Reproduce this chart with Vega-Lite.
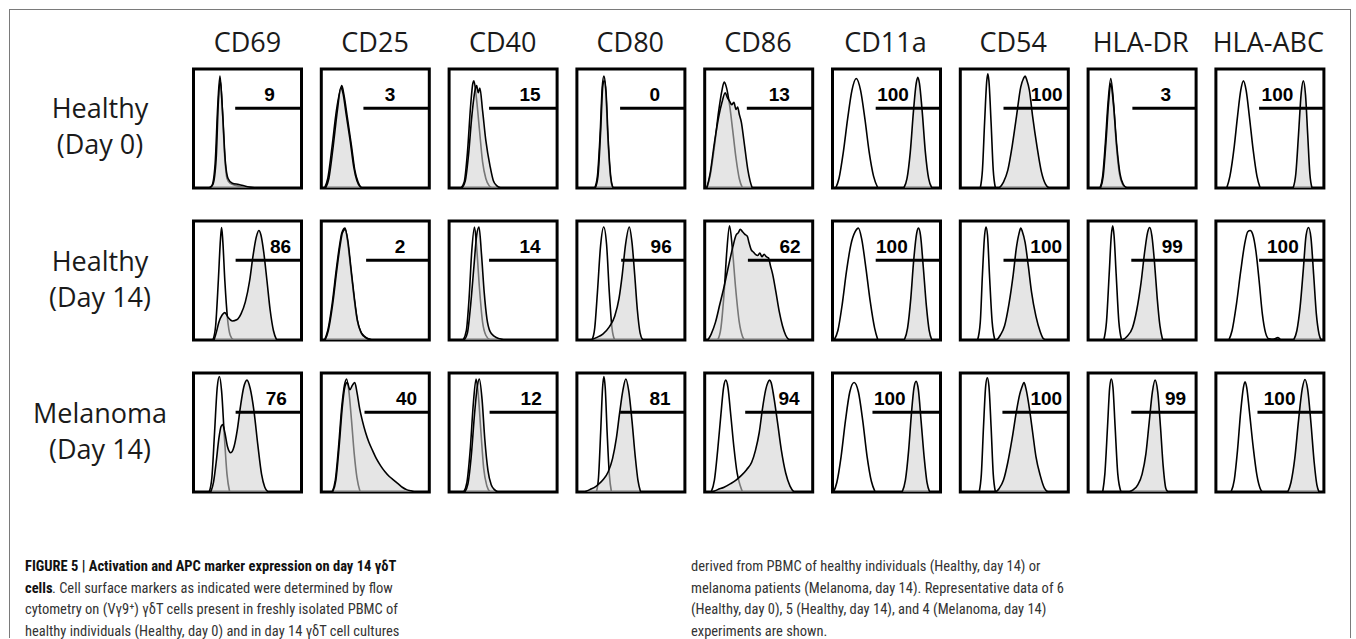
{
"$schema":"https://vega.github.io/schema/vega-lite/v6.json",
"background":"white",
"padding":{"left":9,"top":9,"right":0,"bottom":0},
"config":{"view":{"stroke":"black","strokeWidth":3}},
"datasets":{
"h":[
{"r":"H0","c":"CD69","k":"c","x":14,"y":0},{"r":"H0","c":"CD69","k":"c","x":17,"y":2},{"r":"H0","c":"CD69","k":"c","x":20,"y":20},{"r":"H0","c":"CD69","k":"c","x":22.5,"y":70},{"r":"H0","c":"CD69","k":"c","x":24.5,"y":94},{"r":"H0","c":"CD69","k":"c","x":26.5,"y":70},{"r":"H0","c":"CD69","k":"c","x":29,"y":25},{"r":"H0","c":"CD69","k":"c","x":31,"y":8},{"r":"H0","c":"CD69","k":"c","x":34,"y":4},{"r":"H0","c":"CD69","k":"c","x":40,"y":2},{"r":"H0","c":"CD69","k":"c","x":48,"y":0},
{"r":"H0","c":"CD69","k":"s","x":15,"y":0},{"r":"H0","c":"CD69","k":"s","x":18,"y":3},{"r":"H0","c":"CD69","k":"s","x":21,"y":25},{"r":"H0","c":"CD69","k":"s","x":23,"y":72},{"r":"H0","c":"CD69","k":"s","x":24.8,"y":90},{"r":"H0","c":"CD69","k":"s","x":26.8,"y":65},{"r":"H0","c":"CD69","k":"s","x":29.5,"y":22},{"r":"H0","c":"CD69","k":"s","x":32,"y":8},{"r":"H0","c":"CD69","k":"s","x":36,"y":4},{"r":"H0","c":"CD69","k":"s","x":42,"y":3},{"r":"H0","c":"CD69","k":"s","x":50,"y":1},{"r":"H0","c":"CD69","k":"s","x":58,"y":0},
{"r":"H0","c":"CD25","k":"c","x":3,"y":0},{"r":"H0","c":"CD25","k":"c","x":6,"y":8},{"r":"H0","c":"CD25","k":"c","x":10,"y":35},{"r":"H0","c":"CD25","k":"c","x":14,"y":65},{"r":"H0","c":"CD25","k":"c","x":17,"y":80},{"r":"H0","c":"CD25","k":"c","x":19,"y":86},{"r":"H0","c":"CD25","k":"c","x":21,"y":78},{"r":"H0","c":"CD25","k":"c","x":24,"y":60},{"r":"H0","c":"CD25","k":"c","x":28,"y":35},{"r":"H0","c":"CD25","k":"c","x":31,"y":15},{"r":"H0","c":"CD25","k":"c","x":34,"y":5},{"r":"H0","c":"CD25","k":"c","x":37,"y":0},
{"r":"H0","c":"CD25","k":"s","x":4,"y":0},{"r":"H0","c":"CD25","k":"s","x":7,"y":8},{"r":"H0","c":"CD25","k":"s","x":11,"y":35},{"r":"H0","c":"CD25","k":"s","x":15,"y":66},{"r":"H0","c":"CD25","k":"s","x":18,"y":84},{"r":"H0","c":"CD25","k":"s","x":20,"y":80},{"r":"H0","c":"CD25","k":"s","x":23,"y":62},{"r":"H0","c":"CD25","k":"s","x":27,"y":38},{"r":"H0","c":"CD25","k":"s","x":30,"y":18},{"r":"H0","c":"CD25","k":"s","x":33,"y":6},{"r":"H0","c":"CD25","k":"s","x":36,"y":1},{"r":"H0","c":"CD25","k":"s","x":38,"y":0},
{"r":"H0","c":"CD40","k":"c","x":11,"y":0},{"r":"H0","c":"CD40","k":"c","x":14,"y":5},{"r":"H0","c":"CD40","k":"c","x":17,"y":30},{"r":"H0","c":"CD40","k":"c","x":20,"y":70},{"r":"H0","c":"CD40","k":"c","x":22,"y":88},{"r":"H0","c":"CD40","k":"c","x":23,"y":90},{"r":"H0","c":"CD40","k":"c","x":25,"y":78},{"r":"H0","c":"CD40","k":"c","x":28,"y":50},{"r":"H0","c":"CD40","k":"c","x":31,"y":22},{"r":"H0","c":"CD40","k":"c","x":34,"y":8},{"r":"H0","c":"CD40","k":"c","x":37,"y":2},{"r":"H0","c":"CD40","k":"c","x":40,"y":0},
{"r":"H0","c":"CD40","k":"s","x":12,"y":0},{"r":"H0","c":"CD40","k":"s","x":15,"y":6},{"r":"H0","c":"CD40","k":"s","x":18,"y":28},{"r":"H0","c":"CD40","k":"s","x":21,"y":60},{"r":"H0","c":"CD40","k":"s","x":24,"y":82},{"r":"H0","c":"CD40","k":"s","x":25.5,"y":86},{"r":"H0","c":"CD40","k":"s","x":27,"y":80},{"r":"H0","c":"CD40","k":"s","x":28.5,"y":84},{"r":"H0","c":"CD40","k":"s","x":31,"y":65},{"r":"H0","c":"CD40","k":"s","x":34,"y":40},{"r":"H0","c":"CD40","k":"s","x":38,"y":18},{"r":"H0","c":"CD40","k":"s","x":41,"y":6},{"r":"H0","c":"CD40","k":"s","x":44,"y":2},{"r":"H0","c":"CD40","k":"s","x":48,"y":0},
{"r":"H0","c":"CD80","k":"c","x":16.5,"y":0},{"r":"H0","c":"CD80","k":"c","x":19,"y":10},{"r":"H0","c":"CD80","k":"c","x":21.5,"y":45},{"r":"H0","c":"CD80","k":"c","x":23.5,"y":85},{"r":"H0","c":"CD80","k":"c","x":25,"y":94},{"r":"H0","c":"CD80","k":"c","x":26.5,"y":85},{"r":"H0","c":"CD80","k":"c","x":28.5,"y":45},{"r":"H0","c":"CD80","k":"c","x":31,"y":10},{"r":"H0","c":"CD80","k":"c","x":33,"y":0},
{"r":"H0","c":"CD80","k":"s","x":17,"y":0},{"r":"H0","c":"CD80","k":"s","x":19.5,"y":10},{"r":"H0","c":"CD80","k":"s","x":22,"y":48},{"r":"H0","c":"CD80","k":"s","x":24,"y":86},{"r":"H0","c":"CD80","k":"s","x":25.3,"y":90},{"r":"H0","c":"CD80","k":"s","x":27,"y":80},{"r":"H0","c":"CD80","k":"s","x":29,"y":40},{"r":"H0","c":"CD80","k":"s","x":31.5,"y":8},{"r":"H0","c":"CD80","k":"s","x":33.5,"y":0},
{"r":"H0","c":"CD86","k":"c","x":2,"y":0},{"r":"H0","c":"CD86","k":"c","x":5,"y":10},{"r":"H0","c":"CD86","k":"c","x":9,"y":35},{"r":"H0","c":"CD86","k":"c","x":13,"y":65},{"r":"H0","c":"CD86","k":"c","x":16,"y":82},{"r":"H0","c":"CD86","k":"c","x":18,"y":89},{"r":"H0","c":"CD86","k":"c","x":20,"y":85},{"r":"H0","c":"CD86","k":"c","x":23,"y":70},{"r":"H0","c":"CD86","k":"c","x":26,"y":48},{"r":"H0","c":"CD86","k":"c","x":29,"y":25},{"r":"H0","c":"CD86","k":"c","x":32,"y":8},{"r":"H0","c":"CD86","k":"c","x":35,"y":0},
{"r":"H0","c":"CD86","k":"s","x":2,"y":0},{"r":"H0","c":"CD86","k":"s","x":5,"y":12},{"r":"H0","c":"CD86","k":"s","x":9,"y":38},{"r":"H0","c":"CD86","k":"s","x":13,"y":60},{"r":"H0","c":"CD86","k":"s","x":16,"y":72},{"r":"H0","c":"CD86","k":"s","x":19,"y":80},{"r":"H0","c":"CD86","k":"s","x":21,"y":76},{"r":"H0","c":"CD86","k":"s","x":23,"y":73},{"r":"H0","c":"CD86","k":"s","x":25,"y":70},{"r":"H0","c":"CD86","k":"s","x":27,"y":72},{"r":"H0","c":"CD86","k":"s","x":29,"y":66},{"r":"H0","c":"CD86","k":"s","x":30.5,"y":68},{"r":"H0","c":"CD86","k":"s","x":32,"y":62},{"r":"H0","c":"CD86","k":"s","x":34,"y":55},{"r":"H0","c":"CD86","k":"s","x":36,"y":42},{"r":"H0","c":"CD86","k":"s","x":38,"y":28},{"r":"H0","c":"CD86","k":"s","x":40,"y":15},{"r":"H0","c":"CD86","k":"s","x":42,"y":6},{"r":"H0","c":"CD86","k":"s","x":44,"y":0},
{"r":"H0","c":"CD11a","k":"c","x":3,"y":0},{"r":"H0","c":"CD11a","k":"c","x":6,"y":8},{"r":"H0","c":"CD11a","k":"c","x":10,"y":30},{"r":"H0","c":"CD11a","k":"c","x":14,"y":58},{"r":"H0","c":"CD11a","k":"c","x":18,"y":82},{"r":"H0","c":"CD11a","k":"c","x":22,"y":92},{"r":"H0","c":"CD11a","k":"c","x":26,"y":82},{"r":"H0","c":"CD11a","k":"c","x":30,"y":58},{"r":"H0","c":"CD11a","k":"c","x":34,"y":30},{"r":"H0","c":"CD11a","k":"c","x":38,"y":10},{"r":"H0","c":"CD11a","k":"c","x":42,"y":0},
{"r":"H0","c":"CD11a","k":"s","x":66,"y":0},{"r":"H0","c":"CD11a","k":"s","x":69,"y":8},{"r":"H0","c":"CD11a","k":"s","x":72,"y":30},{"r":"H0","c":"CD11a","k":"s","x":75,"y":65},{"r":"H0","c":"CD11a","k":"s","x":77.5,"y":88},{"r":"H0","c":"CD11a","k":"s","x":79,"y":93},{"r":"H0","c":"CD11a","k":"s","x":80.5,"y":88},{"r":"H0","c":"CD11a","k":"s","x":83,"y":65},{"r":"H0","c":"CD11a","k":"s","x":86,"y":30},{"r":"H0","c":"CD11a","k":"s","x":89,"y":8},{"r":"H0","c":"CD11a","k":"s","x":92,"y":0},
{"r":"H0","c":"CD54","k":"c","x":18.5,"y":0},{"r":"H0","c":"CD54","k":"c","x":20.5,"y":15},{"r":"H0","c":"CD54","k":"c","x":22.5,"y":55},{"r":"H0","c":"CD54","k":"c","x":24.5,"y":90},{"r":"H0","c":"CD54","k":"c","x":25.5,"y":96},{"r":"H0","c":"CD54","k":"c","x":26.5,"y":90},{"r":"H0","c":"CD54","k":"c","x":28.5,"y":55},{"r":"H0","c":"CD54","k":"c","x":30.5,"y":15},{"r":"H0","c":"CD54","k":"c","x":32.5,"y":0},
{"r":"H0","c":"CD54","k":"s","x":36,"y":0},{"r":"H0","c":"CD54","k":"s","x":40,"y":5},{"r":"H0","c":"CD54","k":"s","x":44,"y":15},{"r":"H0","c":"CD54","k":"s","x":48,"y":35},{"r":"H0","c":"CD54","k":"s","x":52,"y":60},{"r":"H0","c":"CD54","k":"s","x":56,"y":85},{"r":"H0","c":"CD54","k":"s","x":58.5,"y":92},{"r":"H0","c":"CD54","k":"s","x":60,"y":94},{"r":"H0","c":"CD54","k":"s","x":61.5,"y":91},{"r":"H0","c":"CD54","k":"s","x":64,"y":82},{"r":"H0","c":"CD54","k":"s","x":67,"y":60},{"r":"H0","c":"CD54","k":"s","x":71,"y":35},{"r":"H0","c":"CD54","k":"s","x":75,"y":14},{"r":"H0","c":"CD54","k":"s","x":79,"y":3},{"r":"H0","c":"CD54","k":"s","x":82,"y":0},
{"r":"H0","c":"HLA-DR","k":"c","x":11,"y":0},{"r":"H0","c":"HLA-DR","k":"c","x":13.5,"y":10},{"r":"H0","c":"HLA-DR","k":"c","x":16,"y":38},{"r":"H0","c":"HLA-DR","k":"c","x":18.5,"y":72},{"r":"H0","c":"HLA-DR","k":"c","x":21,"y":92},{"r":"H0","c":"HLA-DR","k":"c","x":23.5,"y":72},{"r":"H0","c":"HLA-DR","k":"c","x":26,"y":38},{"r":"H0","c":"HLA-DR","k":"c","x":29,"y":12},{"r":"H0","c":"HLA-DR","k":"c","x":32,"y":3},{"r":"H0","c":"HLA-DR","k":"c","x":35,"y":0},
{"r":"H0","c":"HLA-DR","k":"s","x":11.5,"y":0},{"r":"H0","c":"HLA-DR","k":"s","x":14,"y":10},{"r":"H0","c":"HLA-DR","k":"s","x":16.5,"y":38},{"r":"H0","c":"HLA-DR","k":"s","x":19,"y":72},{"r":"H0","c":"HLA-DR","k":"s","x":21,"y":88},{"r":"H0","c":"HLA-DR","k":"s","x":23.5,"y":70},{"r":"H0","c":"HLA-DR","k":"s","x":26.5,"y":36},{"r":"H0","c":"HLA-DR","k":"s","x":29.5,"y":12},{"r":"H0","c":"HLA-DR","k":"s","x":32.5,"y":3},{"r":"H0","c":"HLA-DR","k":"s","x":36,"y":0},
{"r":"H0","c":"HLA-ABC","k":"c","x":10,"y":0},{"r":"H0","c":"HLA-ABC","k":"c","x":13,"y":10},{"r":"H0","c":"HLA-ABC","k":"c","x":17,"y":35},{"r":"H0","c":"HLA-ABC","k":"c","x":20,"y":60},{"r":"H0","c":"HLA-ABC","k":"c","x":23,"y":82},{"r":"H0","c":"HLA-ABC","k":"c","x":25.5,"y":90},{"r":"H0","c":"HLA-ABC","k":"c","x":28,"y":82},{"r":"H0","c":"HLA-ABC","k":"c","x":31,"y":60},{"r":"H0","c":"HLA-ABC","k":"c","x":34.5,"y":32},{"r":"H0","c":"HLA-ABC","k":"c","x":38,"y":10},{"r":"H0","c":"HLA-ABC","k":"c","x":41,"y":0},
{"r":"H0","c":"HLA-ABC","k":"s","x":71.5,"y":0},{"r":"H0","c":"HLA-ABC","k":"s","x":74,"y":12},{"r":"H0","c":"HLA-ABC","k":"s","x":76.5,"y":45},{"r":"H0","c":"HLA-ABC","k":"s","x":79,"y":80},{"r":"H0","c":"HLA-ABC","k":"s","x":81,"y":90},{"r":"H0","c":"HLA-ABC","k":"s","x":83,"y":78},{"r":"H0","c":"HLA-ABC","k":"s","x":85,"y":45},{"r":"H0","c":"HLA-ABC","k":"s","x":87,"y":12},{"r":"H0","c":"HLA-ABC","k":"s","x":89,"y":0},
{"r":"H14","c":"CD69","k":"c","x":18,"y":0},{"r":"H14","c":"CD69","k":"c","x":20.5,"y":12},{"r":"H14","c":"CD69","k":"c","x":23,"y":50},{"r":"H14","c":"CD69","k":"c","x":25,"y":85},{"r":"H14","c":"CD69","k":"c","x":26,"y":94.5},{"r":"H14","c":"CD69","k":"c","x":27,"y":85},{"r":"H14","c":"CD69","k":"c","x":29,"y":50},{"r":"H14","c":"CD69","k":"c","x":31.5,"y":18},{"r":"H14","c":"CD69","k":"c","x":34,"y":4},{"r":"H14","c":"CD69","k":"c","x":37,"y":0},
{"r":"H14","c":"CD69","k":"s","x":19,"y":0},{"r":"H14","c":"CD69","k":"s","x":21,"y":6},{"r":"H14","c":"CD69","k":"s","x":23.5,"y":15},{"r":"H14","c":"CD69","k":"s","x":26.5,"y":21},{"r":"H14","c":"CD69","k":"s","x":29,"y":23},{"r":"H14","c":"CD69","k":"s","x":32,"y":19},{"r":"H14","c":"CD69","k":"s","x":36,"y":16},{"r":"H14","c":"CD69","k":"s","x":40,"y":17},{"r":"H14","c":"CD69","k":"s","x":44,"y":22},{"r":"H14","c":"CD69","k":"s","x":48,"y":32},{"r":"H14","c":"CD69","k":"s","x":52,"y":50},{"r":"H14","c":"CD69","k":"s","x":55,"y":70},{"r":"H14","c":"CD69","k":"s","x":58,"y":86},{"r":"H14","c":"CD69","k":"s","x":60.5,"y":92},{"r":"H14","c":"CD69","k":"s","x":62.5,"y":88},{"r":"H14","c":"CD69","k":"s","x":65,"y":74},{"r":"H14","c":"CD69","k":"s","x":68,"y":50},{"r":"H14","c":"CD69","k":"s","x":71,"y":25},{"r":"H14","c":"CD69","k":"s","x":74,"y":8},{"r":"H14","c":"CD69","k":"s","x":77,"y":0},
{"r":"H14","c":"CD25","k":"c","x":3,"y":0},{"r":"H14","c":"CD25","k":"c","x":6,"y":8},{"r":"H14","c":"CD25","k":"c","x":10,"y":30},{"r":"H14","c":"CD25","k":"c","x":14,"y":60},{"r":"H14","c":"CD25","k":"c","x":17,"y":80},{"r":"H14","c":"CD25","k":"c","x":19,"y":90},{"r":"H14","c":"CD25","k":"c","x":22,"y":94},{"r":"H14","c":"CD25","k":"c","x":24,"y":85},{"r":"H14","c":"CD25","k":"c","x":27,"y":62},{"r":"H14","c":"CD25","k":"c","x":30,"y":38},{"r":"H14","c":"CD25","k":"c","x":33,"y":18},{"r":"H14","c":"CD25","k":"c","x":36,"y":8},{"r":"H14","c":"CD25","k":"c","x":40,"y":3},{"r":"H14","c":"CD25","k":"c","x":44,"y":1},{"r":"H14","c":"CD25","k":"c","x":47,"y":0},
{"r":"H14","c":"CD25","k":"s","x":3.5,"y":0},{"r":"H14","c":"CD25","k":"s","x":6.5,"y":8},{"r":"H14","c":"CD25","k":"s","x":10.5,"y":30},{"r":"H14","c":"CD25","k":"s","x":14.5,"y":60},{"r":"H14","c":"CD25","k":"s","x":17.5,"y":80},{"r":"H14","c":"CD25","k":"s","x":19.5,"y":90},{"r":"H14","c":"CD25","k":"s","x":22,"y":93},{"r":"H14","c":"CD25","k":"s","x":24.5,"y":84},{"r":"H14","c":"CD25","k":"s","x":27.5,"y":60},{"r":"H14","c":"CD25","k":"s","x":30.5,"y":36},{"r":"H14","c":"CD25","k":"s","x":33.5,"y":16},{"r":"H14","c":"CD25","k":"s","x":37,"y":6},{"r":"H14","c":"CD25","k":"s","x":41,"y":2},{"r":"H14","c":"CD25","k":"s","x":45,"y":0},
{"r":"H14","c":"CD40","k":"c","x":13,"y":0},{"r":"H14","c":"CD40","k":"c","x":16,"y":8},{"r":"H14","c":"CD40","k":"c","x":18.5,"y":35},{"r":"H14","c":"CD40","k":"c","x":21,"y":75},{"r":"H14","c":"CD40","k":"c","x":23.5,"y":95},{"r":"H14","c":"CD40","k":"c","x":25.5,"y":78},{"r":"H14","c":"CD40","k":"c","x":28,"y":45},{"r":"H14","c":"CD40","k":"c","x":31,"y":15},{"r":"H14","c":"CD40","k":"c","x":34,"y":4},{"r":"H14","c":"CD40","k":"c","x":38,"y":0},
{"r":"H14","c":"CD40","k":"s","x":14,"y":0},{"r":"H14","c":"CD40","k":"s","x":17,"y":6},{"r":"H14","c":"CD40","k":"s","x":20,"y":30},{"r":"H14","c":"CD40","k":"s","x":23,"y":62},{"r":"H14","c":"CD40","k":"s","x":25.5,"y":88},{"r":"H14","c":"CD40","k":"s","x":27.7,"y":95},{"r":"H14","c":"CD40","k":"s","x":30,"y":72},{"r":"H14","c":"CD40","k":"s","x":32.5,"y":40},{"r":"H14","c":"CD40","k":"s","x":35,"y":18},{"r":"H14","c":"CD40","k":"s","x":38,"y":7},{"r":"H14","c":"CD40","k":"s","x":42,"y":3},{"r":"H14","c":"CD40","k":"s","x":47,"y":1},{"r":"H14","c":"CD40","k":"s","x":51,"y":0},
{"r":"H14","c":"CD80","k":"c","x":14,"y":0},{"r":"H14","c":"CD80","k":"c","x":16.5,"y":10},{"r":"H14","c":"CD80","k":"c","x":19,"y":40},{"r":"H14","c":"CD80","k":"c","x":22,"y":80},{"r":"H14","c":"CD80","k":"c","x":24.8,"y":95},{"r":"H14","c":"CD80","k":"c","x":27.5,"y":80},{"r":"H14","c":"CD80","k":"c","x":30,"y":40},{"r":"H14","c":"CD80","k":"c","x":32.5,"y":10},{"r":"H14","c":"CD80","k":"c","x":35,"y":0},
{"r":"H14","c":"CD80","k":"s","x":13,"y":0},{"r":"H14","c":"CD80","k":"s","x":18,"y":2},{"r":"H14","c":"CD80","k":"s","x":24,"y":5},{"r":"H14","c":"CD80","k":"s","x":30,"y":11},{"r":"H14","c":"CD80","k":"s","x":35,"y":20},{"r":"H14","c":"CD80","k":"s","x":39,"y":35},{"r":"H14","c":"CD80","k":"s","x":42,"y":55},{"r":"H14","c":"CD80","k":"s","x":45,"y":80},{"r":"H14","c":"CD80","k":"s","x":48.5,"y":95},{"r":"H14","c":"CD80","k":"s","x":51,"y":82},{"r":"H14","c":"CD80","k":"s","x":53.5,"y":55},{"r":"H14","c":"CD80","k":"s","x":56,"y":25},{"r":"H14","c":"CD80","k":"s","x":58.5,"y":6},{"r":"H14","c":"CD80","k":"s","x":61,"y":0},
{"r":"H14","c":"CD86","k":"c","x":12,"y":0},{"r":"H14","c":"CD86","k":"c","x":15,"y":10},{"r":"H14","c":"CD86","k":"c","x":18,"y":40},{"r":"H14","c":"CD86","k":"c","x":20.5,"y":75},{"r":"H14","c":"CD86","k":"c","x":23,"y":96},{"r":"H14","c":"CD86","k":"c","x":25.5,"y":78},{"r":"H14","c":"CD86","k":"c","x":28.5,"y":45},{"r":"H14","c":"CD86","k":"c","x":32,"y":15},{"r":"H14","c":"CD86","k":"c","x":35,"y":3},{"r":"H14","c":"CD86","k":"c","x":37,"y":0},
{"r":"H14","c":"CD86","k":"s","x":3,"y":0},{"r":"H14","c":"CD86","k":"s","x":6,"y":5},{"r":"H14","c":"CD86","k":"s","x":10,"y":15},{"r":"H14","c":"CD86","k":"s","x":14,"y":30},{"r":"H14","c":"CD86","k":"s","x":18,"y":45},{"r":"H14","c":"CD86","k":"s","x":22,"y":62},{"r":"H14","c":"CD86","k":"s","x":26,"y":78},{"r":"H14","c":"CD86","k":"s","x":29,"y":88},{"r":"H14","c":"CD86","k":"s","x":31,"y":90},{"r":"H14","c":"CD86","k":"s","x":33,"y":93},{"r":"H14","c":"CD86","k":"s","x":35,"y":91},{"r":"H14","c":"CD86","k":"s","x":37,"y":89},{"r":"H14","c":"CD86","k":"s","x":39.5,"y":87},{"r":"H14","c":"CD86","k":"s","x":41,"y":82},{"r":"H14","c":"CD86","k":"s","x":43,"y":76},{"r":"H14","c":"CD86","k":"s","x":45,"y":74},{"r":"H14","c":"CD86","k":"s","x":47,"y":72},{"r":"H14","c":"CD86","k":"s","x":49,"y":71},{"r":"H14","c":"CD86","k":"s","x":51,"y":73},{"r":"H14","c":"CD86","k":"s","x":53,"y":70},{"r":"H14","c":"CD86","k":"s","x":55,"y":72},{"r":"H14","c":"CD86","k":"s","x":57,"y":70},{"r":"H14","c":"CD86","k":"s","x":59,"y":69},{"r":"H14","c":"CD86","k":"s","x":61,"y":62},{"r":"H14","c":"CD86","k":"s","x":63,"y":55},{"r":"H14","c":"CD86","k":"s","x":66,"y":40},{"r":"H14","c":"CD86","k":"s","x":69,"y":24},{"r":"H14","c":"CD86","k":"s","x":72,"y":12},{"r":"H14","c":"CD86","k":"s","x":75,"y":4},{"r":"H14","c":"CD86","k":"s","x":78,"y":0},
{"r":"H14","c":"CD11a","k":"c","x":1.5,"y":0},{"r":"H14","c":"CD11a","k":"c","x":5,"y":8},{"r":"H14","c":"CD11a","k":"c","x":9,"y":30},{"r":"H14","c":"CD11a","k":"c","x":13,"y":58},{"r":"H14","c":"CD11a","k":"c","x":17,"y":80},{"r":"H14","c":"CD11a","k":"c","x":21,"y":91},{"r":"H14","c":"CD11a","k":"c","x":24,"y":94},{"r":"H14","c":"CD11a","k":"c","x":27,"y":85},{"r":"H14","c":"CD11a","k":"c","x":31,"y":60},{"r":"H14","c":"CD11a","k":"c","x":35,"y":32},{"r":"H14","c":"CD11a","k":"c","x":39,"y":10},{"r":"H14","c":"CD11a","k":"c","x":42,"y":0},
{"r":"H14","c":"CD11a","k":"s","x":66.5,"y":0},{"r":"H14","c":"CD11a","k":"s","x":69.5,"y":10},{"r":"H14","c":"CD11a","k":"s","x":72.5,"y":35},{"r":"H14","c":"CD11a","k":"s","x":75,"y":65},{"r":"H14","c":"CD11a","k":"s","x":78,"y":90},{"r":"H14","c":"CD11a","k":"s","x":79.7,"y":94},{"r":"H14","c":"CD11a","k":"s","x":81.5,"y":88},{"r":"H14","c":"CD11a","k":"s","x":84,"y":62},{"r":"H14","c":"CD11a","k":"s","x":87,"y":28},{"r":"H14","c":"CD11a","k":"s","x":89.5,"y":8},{"r":"H14","c":"CD11a","k":"s","x":92,"y":0},
{"r":"H14","c":"CD54","k":"c","x":16,"y":0},{"r":"H14","c":"CD54","k":"c","x":18.5,"y":15},{"r":"H14","c":"CD54","k":"c","x":20.5,"y":55},{"r":"H14","c":"CD54","k":"c","x":22.5,"y":88},{"r":"H14","c":"CD54","k":"c","x":23.8,"y":95},{"r":"H14","c":"CD54","k":"c","x":25.2,"y":88},{"r":"H14","c":"CD54","k":"c","x":27,"y":55},{"r":"H14","c":"CD54","k":"c","x":29.5,"y":15},{"r":"H14","c":"CD54","k":"c","x":32,"y":0},
{"r":"H14","c":"CD54","k":"s","x":34,"y":0},{"r":"H14","c":"CD54","k":"s","x":37,"y":4},{"r":"H14","c":"CD54","k":"s","x":41,"y":12},{"r":"H14","c":"CD54","k":"s","x":45,"y":30},{"r":"H14","c":"CD54","k":"s","x":49,"y":55},{"r":"H14","c":"CD54","k":"s","x":52,"y":78},{"r":"H14","c":"CD54","k":"s","x":54.5,"y":90},{"r":"H14","c":"CD54","k":"s","x":56,"y":94},{"r":"H14","c":"CD54","k":"s","x":57.5,"y":91},{"r":"H14","c":"CD54","k":"s","x":60,"y":82},{"r":"H14","c":"CD54","k":"s","x":63,"y":62},{"r":"H14","c":"CD54","k":"s","x":66,"y":40},{"r":"H14","c":"CD54","k":"s","x":70,"y":20},{"r":"H14","c":"CD54","k":"s","x":74,"y":7},{"r":"H14","c":"CD54","k":"s","x":77,"y":1},{"r":"H14","c":"CD54","k":"s","x":79,"y":0},
{"r":"H14","c":"HLA-DR","k":"c","x":14.5,"y":0},{"r":"H14","c":"HLA-DR","k":"c","x":17,"y":15},{"r":"H14","c":"HLA-DR","k":"c","x":19.5,"y":55},{"r":"H14","c":"HLA-DR","k":"c","x":21.5,"y":88},{"r":"H14","c":"HLA-DR","k":"c","x":22.8,"y":96},{"r":"H14","c":"HLA-DR","k":"c","x":24,"y":88},{"r":"H14","c":"HLA-DR","k":"c","x":26,"y":55},{"r":"H14","c":"HLA-DR","k":"c","x":28.5,"y":15},{"r":"H14","c":"HLA-DR","k":"c","x":31,"y":0},
{"r":"H14","c":"HLA-DR","k":"s","x":32,"y":0},{"r":"H14","c":"HLA-DR","k":"s","x":36,"y":3},{"r":"H14","c":"HLA-DR","k":"s","x":41,"y":10},{"r":"H14","c":"HLA-DR","k":"s","x":45,"y":25},{"r":"H14","c":"HLA-DR","k":"s","x":49,"y":48},{"r":"H14","c":"HLA-DR","k":"s","x":52.5,"y":75},{"r":"H14","c":"HLA-DR","k":"s","x":55,"y":90},{"r":"H14","c":"HLA-DR","k":"s","x":57,"y":94.5},{"r":"H14","c":"HLA-DR","k":"s","x":59,"y":88},{"r":"H14","c":"HLA-DR","k":"s","x":61.5,"y":65},{"r":"H14","c":"HLA-DR","k":"s","x":64,"y":35},{"r":"H14","c":"HLA-DR","k":"s","x":66.5,"y":12},{"r":"H14","c":"HLA-DR","k":"s","x":69,"y":0},
{"r":"H14","c":"HLA-ABC","k":"c","x":12,"y":0},{"r":"H14","c":"HLA-ABC","k":"c","x":15,"y":8},{"r":"H14","c":"HLA-ABC","k":"c","x":19,"y":30},{"r":"H14","c":"HLA-ABC","k":"c","x":23,"y":58},{"r":"H14","c":"HLA-ABC","k":"c","x":26.5,"y":80},{"r":"H14","c":"HLA-ABC","k":"c","x":29.5,"y":91},{"r":"H14","c":"HLA-ABC","k":"c","x":31.8,"y":92},{"r":"H14","c":"HLA-ABC","k":"c","x":34,"y":89},{"r":"H14","c":"HLA-ABC","k":"c","x":37,"y":75},{"r":"H14","c":"HLA-ABC","k":"c","x":40,"y":50},{"r":"H14","c":"HLA-ABC","k":"c","x":43,"y":22},{"r":"H14","c":"HLA-ABC","k":"c","x":46,"y":6},{"r":"H14","c":"HLA-ABC","k":"c","x":49,"y":1},{"r":"H14","c":"HLA-ABC","k":"c","x":53,"y":0.5},{"r":"H14","c":"HLA-ABC","k":"c","x":57.5,"y":2},{"r":"H14","c":"HLA-ABC","k":"c","x":60,"y":0},
{"r":"H14","c":"HLA-ABC","k":"s","x":72,"y":0},{"r":"H14","c":"HLA-ABC","k":"s","x":75,"y":8},{"r":"H14","c":"HLA-ABC","k":"s","x":78,"y":28},{"r":"H14","c":"HLA-ABC","k":"s","x":81,"y":60},{"r":"H14","c":"HLA-ABC","k":"s","x":83.5,"y":88},{"r":"H14","c":"HLA-ABC","k":"s","x":85.8,"y":94.5},{"r":"H14","c":"HLA-ABC","k":"s","x":88,"y":86},{"r":"H14","c":"HLA-ABC","k":"s","x":90.5,"y":55},{"r":"H14","c":"HLA-ABC","k":"s","x":93,"y":22},{"r":"H14","c":"HLA-ABC","k":"s","x":95.5,"y":5},{"r":"H14","c":"HLA-ABC","k":"s","x":97.5,"y":0},
{"r":"M14","c":"CD69","k":"c","x":14.5,"y":0},{"r":"M14","c":"CD69","k":"c","x":17,"y":12},{"r":"M14","c":"CD69","k":"c","x":19.5,"y":50},{"r":"M14","c":"CD69","k":"c","x":22,"y":88},{"r":"M14","c":"CD69","k":"c","x":24,"y":97},{"r":"M14","c":"CD69","k":"c","x":26,"y":85},{"r":"M14","c":"CD69","k":"c","x":28.5,"y":48},{"r":"M14","c":"CD69","k":"c","x":31,"y":15},{"r":"M14","c":"CD69","k":"c","x":33.5,"y":0},
{"r":"M14","c":"CD69","k":"s","x":16,"y":0},{"r":"M14","c":"CD69","k":"s","x":18.5,"y":8},{"r":"M14","c":"CD69","k":"s","x":21,"y":25},{"r":"M14","c":"CD69","k":"s","x":23.5,"y":45},{"r":"M14","c":"CD69","k":"s","x":25.5,"y":55},{"r":"M14","c":"CD69","k":"s","x":27,"y":56.7},{"r":"M14","c":"CD69","k":"s","x":29,"y":50},{"r":"M14","c":"CD69","k":"s","x":31.5,"y":38},{"r":"M14","c":"CD69","k":"s","x":34.5,"y":33},{"r":"M14","c":"CD69","k":"s","x":37.5,"y":38},{"r":"M14","c":"CD69","k":"s","x":40.5,"y":52},{"r":"M14","c":"CD69","k":"s","x":43.5,"y":72},{"r":"M14","c":"CD69","k":"s","x":46.5,"y":88},{"r":"M14","c":"CD69","k":"s","x":49.5,"y":94},{"r":"M14","c":"CD69","k":"s","x":52.5,"y":87},{"r":"M14","c":"CD69","k":"s","x":56,"y":68},{"r":"M14","c":"CD69","k":"s","x":59.5,"y":40},{"r":"M14","c":"CD69","k":"s","x":63,"y":15},{"r":"M14","c":"CD69","k":"s","x":66,"y":4},{"r":"M14","c":"CD69","k":"s","x":69,"y":0},
{"r":"M14","c":"CD25","k":"c","x":10,"y":0},{"r":"M14","c":"CD25","k":"c","x":13,"y":10},{"r":"M14","c":"CD25","k":"c","x":16,"y":38},{"r":"M14","c":"CD25","k":"c","x":19,"y":72},{"r":"M14","c":"CD25","k":"c","x":21.5,"y":90},{"r":"M14","c":"CD25","k":"c","x":23.4,"y":95},{"r":"M14","c":"CD25","k":"c","x":25.5,"y":85},{"r":"M14","c":"CD25","k":"c","x":28,"y":60},{"r":"M14","c":"CD25","k":"c","x":30.5,"y":32},{"r":"M14","c":"CD25","k":"c","x":33,"y":12},{"r":"M14","c":"CD25","k":"c","x":36,"y":0},
{"r":"M14","c":"CD25","k":"s","x":10.5,"y":0},{"r":"M14","c":"CD25","k":"s","x":13.5,"y":10},{"r":"M14","c":"CD25","k":"s","x":16.5,"y":38},{"r":"M14","c":"CD25","k":"s","x":19.5,"y":72},{"r":"M14","c":"CD25","k":"s","x":22,"y":89},{"r":"M14","c":"CD25","k":"s","x":24,"y":92},{"r":"M14","c":"CD25","k":"s","x":26.5,"y":86},{"r":"M14","c":"CD25","k":"s","x":29,"y":90},{"r":"M14","c":"CD25","k":"s","x":31,"y":92},{"r":"M14","c":"CD25","k":"s","x":33,"y":84},{"r":"M14","c":"CD25","k":"s","x":35.5,"y":70},{"r":"M14","c":"CD25","k":"s","x":38,"y":60},{"r":"M14","c":"CD25","k":"s","x":41,"y":50},{"r":"M14","c":"CD25","k":"s","x":44,"y":42},{"r":"M14","c":"CD25","k":"s","x":47.4,"y":35},{"r":"M14","c":"CD25","k":"s","x":51,"y":28},{"r":"M14","c":"CD25","k":"s","x":55,"y":22},{"r":"M14","c":"CD25","k":"s","x":59,"y":17},{"r":"M14","c":"CD25","k":"s","x":63,"y":13},{"r":"M14","c":"CD25","k":"s","x":67,"y":10},{"r":"M14","c":"CD25","k":"s","x":71,"y":7},{"r":"M14","c":"CD25","k":"s","x":75,"y":4},{"r":"M14","c":"CD25","k":"s","x":79,"y":2},{"r":"M14","c":"CD25","k":"s","x":83,"y":1},{"r":"M14","c":"CD25","k":"s","x":87,"y":0},
{"r":"M14","c":"CD40","k":"c","x":13.5,"y":0},{"r":"M14","c":"CD40","k":"c","x":16.5,"y":8},{"r":"M14","c":"CD40","k":"c","x":19.5,"y":35},{"r":"M14","c":"CD40","k":"c","x":22.5,"y":75},{"r":"M14","c":"CD40","k":"c","x":25,"y":95},{"r":"M14","c":"CD40","k":"c","x":27,"y":82},{"r":"M14","c":"CD40","k":"c","x":29.5,"y":50},{"r":"M14","c":"CD40","k":"c","x":32,"y":20},{"r":"M14","c":"CD40","k":"c","x":35,"y":5},{"r":"M14","c":"CD40","k":"c","x":38,"y":0},
{"r":"M14","c":"CD40","k":"s","x":14.5,"y":0},{"r":"M14","c":"CD40","k":"s","x":17.5,"y":7},{"r":"M14","c":"CD40","k":"s","x":20.5,"y":30},{"r":"M14","c":"CD40","k":"s","x":23.5,"y":65},{"r":"M14","c":"CD40","k":"s","x":26,"y":88},{"r":"M14","c":"CD40","k":"s","x":28,"y":95},{"r":"M14","c":"CD40","k":"s","x":30.5,"y":78},{"r":"M14","c":"CD40","k":"s","x":33,"y":45},{"r":"M14","c":"CD40","k":"s","x":36,"y":18},{"r":"M14","c":"CD40","k":"s","x":39,"y":6},{"r":"M14","c":"CD40","k":"s","x":42,"y":2},{"r":"M14","c":"CD40","k":"s","x":45,"y":0},
{"r":"M14","c":"CD80","k":"c","x":18,"y":0},{"r":"M14","c":"CD80","k":"c","x":20,"y":12},{"r":"M14","c":"CD80","k":"c","x":22,"y":50},{"r":"M14","c":"CD80","k":"c","x":23.8,"y":88},{"r":"M14","c":"CD80","k":"c","x":25,"y":97},{"r":"M14","c":"CD80","k":"c","x":26.2,"y":88},{"r":"M14","c":"CD80","k":"c","x":28,"y":50},{"r":"M14","c":"CD80","k":"c","x":30,"y":15},{"r":"M14","c":"CD80","k":"c","x":32,"y":0},
{"r":"M14","c":"CD80","k":"s","x":7,"y":0},{"r":"M14","c":"CD80","k":"s","x":12,"y":2},{"r":"M14","c":"CD80","k":"s","x":18,"y":5},{"r":"M14","c":"CD80","k":"s","x":24,"y":10},{"r":"M14","c":"CD80","k":"s","x":29,"y":17},{"r":"M14","c":"CD80","k":"s","x":33,"y":28},{"r":"M14","c":"CD80","k":"s","x":36.5,"y":45},{"r":"M14","c":"CD80","k":"s","x":39.5,"y":66},{"r":"M14","c":"CD80","k":"s","x":42.5,"y":85},{"r":"M14","c":"CD80","k":"s","x":45.3,"y":95},{"r":"M14","c":"CD80","k":"s","x":48,"y":85},{"r":"M14","c":"CD80","k":"s","x":51,"y":60},{"r":"M14","c":"CD80","k":"s","x":54,"y":30},{"r":"M14","c":"CD80","k":"s","x":56.5,"y":10},{"r":"M14","c":"CD80","k":"s","x":59,"y":0},
{"r":"M14","c":"CD86","k":"c","x":6,"y":0},{"r":"M14","c":"CD86","k":"c","x":9,"y":10},{"r":"M14","c":"CD86","k":"c","x":12,"y":35},{"r":"M14","c":"CD86","k":"c","x":15,"y":65},{"r":"M14","c":"CD86","k":"c","x":17.5,"y":88},{"r":"M14","c":"CD86","k":"c","x":19.5,"y":94},{"r":"M14","c":"CD86","k":"c","x":21.5,"y":88},{"r":"M14","c":"CD86","k":"c","x":24,"y":66},{"r":"M14","c":"CD86","k":"c","x":27,"y":38},{"r":"M14","c":"CD86","k":"c","x":30,"y":16},{"r":"M14","c":"CD86","k":"c","x":33,"y":5},{"r":"M14","c":"CD86","k":"c","x":35,"y":0},
{"r":"M14","c":"CD86","k":"s","x":7,"y":0},{"r":"M14","c":"CD86","k":"s","x":12,"y":2},{"r":"M14","c":"CD86","k":"s","x":18,"y":4},{"r":"M14","c":"CD86","k":"s","x":24,"y":7},{"r":"M14","c":"CD86","k":"s","x":29,"y":10},{"r":"M14","c":"CD86","k":"s","x":34,"y":14},{"r":"M14","c":"CD86","k":"s","x":39,"y":19},{"r":"M14","c":"CD86","k":"s","x":43.5,"y":25},{"r":"M14","c":"CD86","k":"s","x":47,"y":35},{"r":"M14","c":"CD86","k":"s","x":50.5,"y":50},{"r":"M14","c":"CD86","k":"s","x":53.5,"y":70},{"r":"M14","c":"CD86","k":"s","x":56.5,"y":86},{"r":"M14","c":"CD86","k":"s","x":58.5,"y":92},{"r":"M14","c":"CD86","k":"s","x":60,"y":94},{"r":"M14","c":"CD86","k":"s","x":61.5,"y":92},{"r":"M14","c":"CD86","k":"s","x":64,"y":80},{"r":"M14","c":"CD86","k":"s","x":67.5,"y":58},{"r":"M14","c":"CD86","k":"s","x":71,"y":35},{"r":"M14","c":"CD86","k":"s","x":75,"y":16},{"r":"M14","c":"CD86","k":"s","x":79,"y":5},{"r":"M14","c":"CD86","k":"s","x":82.6,"y":0},
{"r":"M14","c":"CD11a","k":"c","x":1,"y":0},{"r":"M14","c":"CD11a","k":"c","x":4,"y":8},{"r":"M14","c":"CD11a","k":"c","x":8,"y":30},{"r":"M14","c":"CD11a","k":"c","x":12,"y":60},{"r":"M14","c":"CD11a","k":"c","x":16,"y":84},{"r":"M14","c":"CD11a","k":"c","x":20,"y":92},{"r":"M14","c":"CD11a","k":"c","x":24,"y":84},{"r":"M14","c":"CD11a","k":"c","x":28,"y":60},{"r":"M14","c":"CD11a","k":"c","x":32,"y":30},{"r":"M14","c":"CD11a","k":"c","x":36,"y":9},{"r":"M14","c":"CD11a","k":"c","x":39.5,"y":0},
{"r":"M14","c":"CD11a","k":"s","x":64.5,"y":0},{"r":"M14","c":"CD11a","k":"s","x":67.5,"y":10},{"r":"M14","c":"CD11a","k":"s","x":70.5,"y":35},{"r":"M14","c":"CD11a","k":"s","x":73,"y":65},{"r":"M14","c":"CD11a","k":"s","x":75.5,"y":88},{"r":"M14","c":"CD11a","k":"s","x":77.4,"y":93},{"r":"M14","c":"CD11a","k":"s","x":79.5,"y":86},{"r":"M14","c":"CD11a","k":"s","x":82,"y":60},{"r":"M14","c":"CD11a","k":"s","x":85,"y":28},{"r":"M14","c":"CD11a","k":"s","x":87.5,"y":8},{"r":"M14","c":"CD11a","k":"s","x":90,"y":0},
{"r":"M14","c":"CD54","k":"c","x":17.5,"y":0},{"r":"M14","c":"CD54","k":"c","x":19.5,"y":15},{"r":"M14","c":"CD54","k":"c","x":21.5,"y":55},{"r":"M14","c":"CD54","k":"c","x":23.5,"y":89},{"r":"M14","c":"CD54","k":"c","x":25,"y":96},{"r":"M14","c":"CD54","k":"c","x":26.5,"y":89},{"r":"M14","c":"CD54","k":"c","x":28.5,"y":55},{"r":"M14","c":"CD54","k":"c","x":30.5,"y":15},{"r":"M14","c":"CD54","k":"c","x":32.5,"y":0},
{"r":"M14","c":"CD54","k":"s","x":33,"y":0},{"r":"M14","c":"CD54","k":"s","x":36,"y":3},{"r":"M14","c":"CD54","k":"s","x":40,"y":10},{"r":"M14","c":"CD54","k":"s","x":44,"y":25},{"r":"M14","c":"CD54","k":"s","x":48,"y":45},{"r":"M14","c":"CD54","k":"s","x":52,"y":68},{"r":"M14","c":"CD54","k":"s","x":55,"y":82},{"r":"M14","c":"CD54","k":"s","x":57,"y":88},{"r":"M14","c":"CD54","k":"s","x":59,"y":92},{"r":"M14","c":"CD54","k":"s","x":61,"y":86},{"r":"M14","c":"CD54","k":"s","x":64,"y":70},{"r":"M14","c":"CD54","k":"s","x":67,"y":50},{"r":"M14","c":"CD54","k":"s","x":70,"y":30},{"r":"M14","c":"CD54","k":"s","x":74,"y":14},{"r":"M14","c":"CD54","k":"s","x":78,"y":3},{"r":"M14","c":"CD54","k":"s","x":81,"y":0},
{"r":"M14","c":"HLA-DR","k":"c","x":13.5,"y":0},{"r":"M14","c":"HLA-DR","k":"c","x":15.5,"y":15},{"r":"M14","c":"HLA-DR","k":"c","x":18,"y":55},{"r":"M14","c":"HLA-DR","k":"c","x":20,"y":88},{"r":"M14","c":"HLA-DR","k":"c","x":21.5,"y":95},{"r":"M14","c":"HLA-DR","k":"c","x":23,"y":88},{"r":"M14","c":"HLA-DR","k":"c","x":25,"y":55},{"r":"M14","c":"HLA-DR","k":"c","x":27.5,"y":15},{"r":"M14","c":"HLA-DR","k":"c","x":30.5,"y":0},
{"r":"M14","c":"HLA-DR","k":"s","x":38,"y":0},{"r":"M14","c":"HLA-DR","k":"s","x":42,"y":2},{"r":"M14","c":"HLA-DR","k":"s","x":46,"y":6},{"r":"M14","c":"HLA-DR","k":"s","x":50,"y":15},{"r":"M14","c":"HLA-DR","k":"s","x":53.5,"y":32},{"r":"M14","c":"HLA-DR","k":"s","x":56.5,"y":58},{"r":"M14","c":"HLA-DR","k":"s","x":59.5,"y":84},{"r":"M14","c":"HLA-DR","k":"s","x":62,"y":94},{"r":"M14","c":"HLA-DR","k":"s","x":64.5,"y":84},{"r":"M14","c":"HLA-DR","k":"s","x":67,"y":55},{"r":"M14","c":"HLA-DR","k":"s","x":69.5,"y":22},{"r":"M14","c":"HLA-DR","k":"s","x":72,"y":3},{"r":"M14","c":"HLA-DR","k":"s","x":74,"y":0},
{"r":"M14","c":"HLA-ABC","k":"c","x":14,"y":0},{"r":"M14","c":"HLA-ABC","k":"c","x":17,"y":10},{"r":"M14","c":"HLA-ABC","k":"c","x":20,"y":35},{"r":"M14","c":"HLA-ABC","k":"c","x":23,"y":68},{"r":"M14","c":"HLA-ABC","k":"c","x":25.5,"y":88},{"r":"M14","c":"HLA-ABC","k":"c","x":27,"y":92.7},{"r":"M14","c":"HLA-ABC","k":"c","x":28.5,"y":88},{"r":"M14","c":"HLA-ABC","k":"c","x":31,"y":68},{"r":"M14","c":"HLA-ABC","k":"c","x":34.5,"y":38},{"r":"M14","c":"HLA-ABC","k":"c","x":38,"y":14},{"r":"M14","c":"HLA-ABC","k":"c","x":41,"y":3},{"r":"M14","c":"HLA-ABC","k":"c","x":43,"y":0},
{"r":"M14","c":"HLA-ABC","k":"s","x":66.5,"y":0},{"r":"M14","c":"HLA-ABC","k":"s","x":69.5,"y":8},{"r":"M14","c":"HLA-ABC","k":"s","x":73,"y":28},{"r":"M14","c":"HLA-ABC","k":"s","x":76.5,"y":60},{"r":"M14","c":"HLA-ABC","k":"s","x":80,"y":87},{"r":"M14","c":"HLA-ABC","k":"s","x":82.5,"y":94.6},{"r":"M14","c":"HLA-ABC","k":"s","x":85,"y":86},{"r":"M14","c":"HLA-ABC","k":"s","x":88,"y":58},{"r":"M14","c":"HLA-ABC","k":"s","x":91,"y":25},{"r":"M14","c":"HLA-ABC","k":"s","x":93.5,"y":6},{"r":"M14","c":"HLA-ABC","k":"s","x":95.5,"y":0},
{"r":"H0","c":"CD69","k":"g","x":38.6,"x2":100,"y":67},{"r":"H0","c":"CD25","k":"g","x":39,"x2":100,"y":67},{"r":"H0","c":"CD40","k":"g","x":37,"x2":100,"y":67},{"r":"H0","c":"CD80","k":"g","x":40,"x2":100,"y":67},{"r":"H0","c":"CD86","k":"g","x":39,"x2":100,"y":67},{"r":"H0","c":"CD11a","k":"g","x":40,"x2":100,"y":67},{"r":"H0","c":"CD54","k":"g","x":40,"x2":100,"y":67},{"r":"H0","c":"HLA-DR","k":"g","x":41,"x2":100,"y":67},{"r":"H0","c":"HLA-ABC","k":"g","x":40,"x2":100,"y":67},
{"r":"H14","c":"CD69","k":"g","x":39,"x2":100,"y":67},{"r":"H14","c":"CD25","k":"g","x":41.5,"x2":100,"y":67},{"r":"H14","c":"CD40","k":"g","x":37,"x2":100,"y":67},{"r":"H14","c":"CD80","k":"g","x":41,"x2":100,"y":67},{"r":"H14","c":"CD86","k":"g","x":40,"x2":100,"y":67},{"r":"H14","c":"CD11a","k":"g","x":40,"x2":100,"y":67},{"r":"H14","c":"CD54","k":"g","x":40,"x2":100,"y":67},{"r":"H14","c":"HLA-DR","k":"g","x":40,"x2":100,"y":67},{"r":"H14","c":"HLA-ABC","k":"g","x":40,"x2":100,"y":67},
{"r":"M14","c":"CD69","k":"g","x":39,"x2":100,"y":67},{"r":"M14","c":"CD25","k":"g","x":40,"x2":100,"y":67},{"r":"M14","c":"CD40","k":"g","x":37.5,"x2":100,"y":67},{"r":"M14","c":"CD80","k":"g","x":40,"x2":100,"y":67},{"r":"M14","c":"CD86","k":"g","x":37.5,"x2":100,"y":67},{"r":"M14","c":"CD11a","k":"g","x":37,"x2":100,"y":67},{"r":"M14","c":"CD54","k":"g","x":39,"x2":100,"y":67},{"r":"M14","c":"HLA-DR","k":"g","x":40,"x2":100,"y":67},{"r":"M14","c":"HLA-ABC","k":"g","x":38.5,"x2":100,"y":67},
{"r":"H0","c":"CD69","k":"l","x":70.5,"y":73,"t":"9"},{"r":"H0","c":"CD25","k":"l","x":63.7,"y":73,"t":"3"},{"r":"H0","c":"CD40","k":"l","x":75,"y":73,"t":"15"},{"r":"H0","c":"CD80","k":"l","x":72,"y":73,"t":"0"},{"r":"H0","c":"CD86","k":"l","x":69,"y":73,"t":"13"},{"r":"H0","c":"CD11a","k":"l","x":56,"y":73,"t":"100"},{"r":"H0","c":"CD54","k":"l","x":80,"y":73,"t":"100"},{"r":"H0","c":"HLA-DR","k":"l","x":72,"y":73,"t":"3"},{"r":"H0","c":"HLA-ABC","k":"l","x":57,"y":73,"t":"100"},
{"r":"H14","c":"CD69","k":"l","x":80.6,"y":73,"t":"86"},{"r":"H14","c":"CD25","k":"l","x":73,"y":73,"t":"2"},{"r":"H14","c":"CD40","k":"l","x":75,"y":73,"t":"14"},{"r":"H14","c":"CD80","k":"l","x":78,"y":73,"t":"96"},{"r":"H14","c":"CD86","k":"l","x":79,"y":73,"t":"62"},{"r":"H14","c":"CD11a","k":"l","x":55,"y":73,"t":"100"},{"r":"H14","c":"CD54","k":"l","x":79.5,"y":73,"t":"100"},{"r":"H14","c":"HLA-DR","k":"l","x":78,"y":73,"t":"99"},{"r":"H14","c":"HLA-ABC","k":"l","x":62,"y":73,"t":"100"},
{"r":"M14","c":"CD69","k":"l","x":76.6,"y":73,"t":"76"},{"r":"M14","c":"CD25","k":"l","x":79,"y":73,"t":"40"},{"r":"M14","c":"CD40","k":"l","x":76,"y":73,"t":"12"},{"r":"M14","c":"CD80","k":"l","x":77,"y":73,"t":"81"},{"r":"M14","c":"CD86","k":"l","x":78,"y":73,"t":"94"},{"r":"M14","c":"CD11a","k":"l","x":53,"y":73,"t":"100"},{"r":"M14","c":"CD54","k":"l","x":79.6,"y":73,"t":"100"},{"r":"M14","c":"HLA-DR","k":"l","x":81,"y":73,"t":"99"},{"r":"M14","c":"HLA-ABC","k":"l","x":59,"y":73,"t":"100"}
],
"rows":[
{"r":"H0","lab":"Healthy\n(Day 0)"},{"r":"H14","lab":"Healthy\n(Day 14)"},{"r":"M14","lab":"Melanoma\n(Day 14)"}
],
"cols":[
{"c":"CD69"},{"c":"CD25"},{"c":"CD40"},{"c":"CD80"},{"c":"CD86"},{"c":"CD11a"},{"c":"CD54"},{"c":"HLA-DR"},{"c":"HLA-ABC"}
],
"cap":[
{"col":0,"line":0,"w":"b","t":"FIGURE 5 | Activation and APC marker expression on day 14 γδT"},
{"col":0,"line":1,"w":"b","t":"cells"},
{"col":0,"line":1,"w":"m","t":". Cell surface markers as indicated were determined by flow"},
{"col":0,"line":2,"w":"n","t":"cytometry on (Vγ9⁺) γδT cells present in freshly isolated PBMC of"},
{"col":0,"line":3,"w":"n","t":"healthy individuals (Healthy, day 0) and in day 14 γδT cell cultures"},
{"col":1,"line":0,"w":"n","t":"derived from PBMC of healthy individuals (Healthy, day 14) or"},
{"col":1,"line":1,"w":"n","t":"melanoma patients (Melanoma, day 14). Representative data of 6"},
{"col":1,"line":2,"w":"n","t":"(Healthy, day 0), 5 (Healthy, day 14), and 4 (Melanoma, day 14)"},
{"col":1,"line":3,"w":"n","t":"experiments are shown."}
]
},
"spacing":0,
"hconcat":[
 {"width":1,"height":629,"data":{"values":[{}]},"mark":{"type":"text","text":"","fontSize":0},"view":{"stroke":null,"fill":"#7a7a7a"}},
 {"spacing":0,"vconcat":[
   {"width":1340,"height":1,"data":{"values":[{}]},"mark":{"type":"text","text":"","fontSize":0},"view":{"stroke":null,"fill":"#7a7a7a"}},
   {"spacing":57,"vconcat":[
     {"spacing":0,"vconcat":[
       {"spacing":1.5,"hconcat":[
         {"width":182,"height":57,"data":{"values":[{}]},"mark":{"type":"text","text":"","fontSize":0},"view":{"stroke":null}},
         {"width":1128.8,"height":57,"data":{"name":"cols"},"view":{"stroke":null},
          "mark":{"type":"text","font":"Open Sans","fontSize":27,"color":"#1a1a1a","align":"center","baseline":"alphabetic","dy":13.5},
          "encoding":{
            "x":{"field":"c","type":"ordinal","scale":{"type":"point","domain":["CD69","CD25","CD40","CD80","CD86","CD11a","CD54","HLA-DR","HLA-ABC"],"padding":0.423},"axis":null},
            "text":{"field":"c"}
          }}
       ]},
       {"spacing":1.5,"hconcat":[
         {"width":180,"height":423,"data":{"name":"rows"},"view":{"stroke":null},
          "mark":{"type":"text","font":"Open Sans","fontSize":27,"color":"#1a1a1a","align":"center","baseline":"middle","lineBreak":"\n","lineHeight":36,"dy":-18},
          "encoding":{
            "y":{"field":"r","type":"ordinal","scale":{"type":"point","domain":["H0","H14","M14"],"padding":0.3914},"axis":null},
            "text":{"field":"lab"}
          }},
         {"data":{"name":"h"},
          "facet":{
            "row":{"field":"r","type":"nominal","sort":["H0","H14","M14"],"title":null,"header":{"labels":false}},
            "column":{"field":"c","type":"nominal","sort":["CD69","CD25","CD40","CD80","CD86","CD11a","CD54","HLA-DR","HLA-ABC"],"title":null,"header":{"labels":false}}
          },
          "spacing":{"row":26,"column":12.8},
          "spec":{
            "width":108,"height":119,
            "encoding":{
              "x":{"field":"x","type":"quantitative","scale":{"domain":[0,100],"nice":false},"axis":null},
              "y":{"field":"y","type":"quantitative","scale":{"domain":[0,100],"nice":false},"axis":null}
            },
            "layer":[
              {"transform":[{"filter":"datum.k == 'c'"}],"mark":{"type":"line","color":"black","strokeWidth":1.6,"interpolate":"monotone"}},
              {"transform":[{"filter":"datum.k == 's'"}],"mark":{"type":"area","fill":"#d2d2d2","fillOpacity":0.57,"interpolate":"monotone"}},
              {"transform":[{"filter":"datum.k == 's'"}],"mark":{"type":"line","color":"black","strokeWidth":1.6,"interpolate":"monotone"}},
              {"transform":[{"filter":"datum.k == 'g'"}],"mark":{"type":"rule","color":"black","strokeWidth":3},"encoding":{"x2":{"field":"x2"}}},
              {"transform":[{"filter":"datum.k == 'l'"}],"mark":{"type":"text","font":"Liberation Sans","fontWeight":"bold","fontSize":19,"align":"center","baseline":"alphabetic","color":"black"},"encoding":{"text":{"field":"t"}}}
            ]
          }
         }
       ]}
     ]},
     {"width":666,"height":84,"data":{"name":"cap"},"view":{"stroke":null},
      "encoding":{
        "x":{"field":"col","type":"quantitative","scale":{"domain":[0,1],"nice":false},"axis":null},
        "y":{"field":"line","type":"quantitative","scale":{"domain":[-0.8,3.1],"nice":false,"reverse":true},"axis":null},
        "text":{"field":"t"}
      },
      "layer":[
        {"transform":[{"filter":"datum.w == 'b'"}],"mark":{"type":"text","align":"left","baseline":"alphabetic","font":"Roboto Condensed, DejaVu Sans Condensed, sans-serif","fontSize":14.5,"fontWeight":"bold","color":"#111111","dx":15}},
        {"transform":[{"filter":"datum.w == 'n'"}],"mark":{"type":"text","align":"left","baseline":"alphabetic","font":"Roboto Condensed, DejaVu Sans Condensed, sans-serif","fontSize":14.5,"color":"#333333","dx":15}},
        {"transform":[{"filter":"datum.w == 'm'"}],"mark":{"type":"text","align":"left","baseline":"alphabetic","font":"Roboto Condensed, DejaVu Sans Condensed, sans-serif","fontSize":14.5,"color":"#333333","dx":42}}
      ]
     }
   ]}
 ]},
 {"width":1,"height":629,"data":{"values":[{}]},"mark":{"type":"text","text":"","fontSize":0},"view":{"stroke":null,"fill":"#7a7a7a"}}
]
}
